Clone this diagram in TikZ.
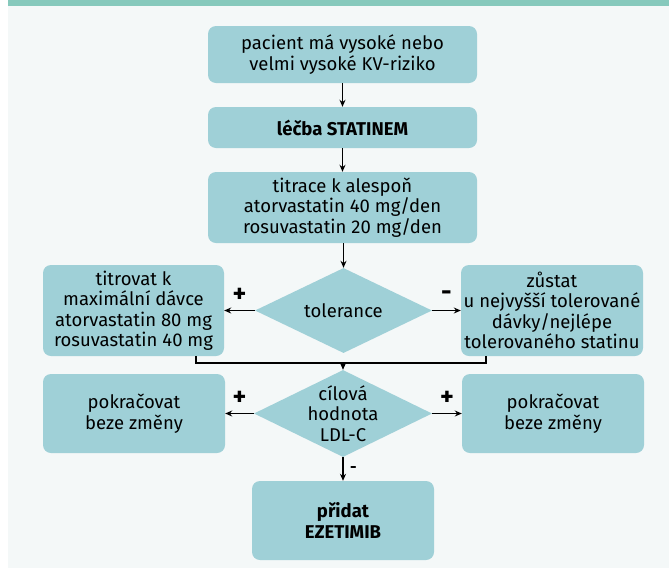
\documentclass[tikz,border=0pt]{standalone}
\usepackage{fontspec}
\setmainfont{Fira Sans}
\usetikzlibrary{shapes.geometric,arrows.meta}
\definecolor{bgc}{HTML}{F4F8F8}
\definecolor{barc}{HTML}{86C9BC}
\definecolor{boxc}{HTML}{9FD0D7}
\newcommand{\bodyfont}{\fontsize{18.5}{20.5}\selectfont}
\begin{document}
\begin{tikzpicture}[x=1pt,y=-1pt,
  box/.style={fill=boxc, rounded corners=8pt, align=center, inner sep=0pt, font=\bodyfont},
  dia/.style={fill=boxc, diamond, inner sep=0pt},
  arr/.style={draw=black, line width=1.5pt, -{Stealth[length=7pt,width=6pt]}},
  ln/.style={draw=black, line width=1.5pt},
  sign/.style={font=\fontsize{26}{26}\selectfont\bfseries, inner sep=0pt}]
\fill[white] (0,0) rectangle (669,568);
\fill[bgc] (8,0) rectangle (669,568);
\fill[barc] (8,0) rectangle (669,6);
\useasboundingbox (0,0) rectangle (669,568);

\node[box, minimum width=269pt, minimum height=57pt] (b1) at (342.5,54.5) {pacient má vysoké nebo\\velmi vysoké KV-riziko};
\node[box, minimum width=269pt, minimum height=41pt] (b2) at (342.5,127.5) {\bfseries léčba STATINEM};
\node[box, minimum width=269pt, minimum height=71pt] (b3) at (342.5,207.5) {titrace k alespoň\\atorvastatin 40 mg/den\\rosuvastatin 20 mg/den};
\node[dia, minimum width=177pt, minimum height=85pt, label={[font=\bodyfont]center:tolerance}] (d1) at (343.5,310.5) {};
\node[box, minimum width=181pt, minimum height=91pt] (l1) at (133.5,310.5) {titrovat k\\maximální dávce\\atorvastatin 80 mg\\rosuvastatin 40 mg};
\node[box, minimum width=182pt, minimum height=91pt] (r1) at (552,310.5) {zůstat\\u nejvyšší tolerované\\dávky/nejlépe\\tolerovaného statinu};
\node[dia, minimum width=178pt, minimum height=87pt, label={[font=\bodyfont, align=center]center:cílová\\hodnota\\LDL-C}] (d2) at (343,413.5) {};
\node[box, minimum width=182pt, minimum height=79pt] (l2) at (134,413.5) {pokračovat\\beze změny};
\node[box, minimum width=182pt, minimum height=79pt] (r2) at (553,413.5) {pokračovat\\beze změny};
\node[box, minimum width=182pt, minimum height=79pt] (e) at (343,520.5) {\bfseries přidat\\\bfseries EZETIMIB};

\draw[arr] (b1.south) -- (b2.north);
\draw[arr] (b2.south) -- (b3.north);
\draw[arr] (b3.south -| d1.north) -- (d1.north);
\draw[arr] (d1.west) -- (l1.east) node[sign, midway, above=7pt] {+};
\draw[arr] (d1.east) -- (r1.west) node[sign, midway, above=9pt] {-};
\coordinate (jl) at (196,363);
\coordinate (jr) at (486,363);
\draw[ln] (l1.south -| jl) -- (jl) -- (jr) -- (r1.south -| jr);
\draw[arr] (d2.north |- jl) -- (d2.north);
\draw[arr] (d2.west) -- (l2.east) node[sign, midway, above=7pt] {+};
\draw[arr] (d2.east) -- (r2.west) node[sign, midway, above=7pt] {+};
\draw[arr] (d2.south) -- (e.north) node[midway, right=3pt, font=\fontsize{16}{16}\selectfont\bfseries] {-};
\end{tikzpicture}
\end{document}
